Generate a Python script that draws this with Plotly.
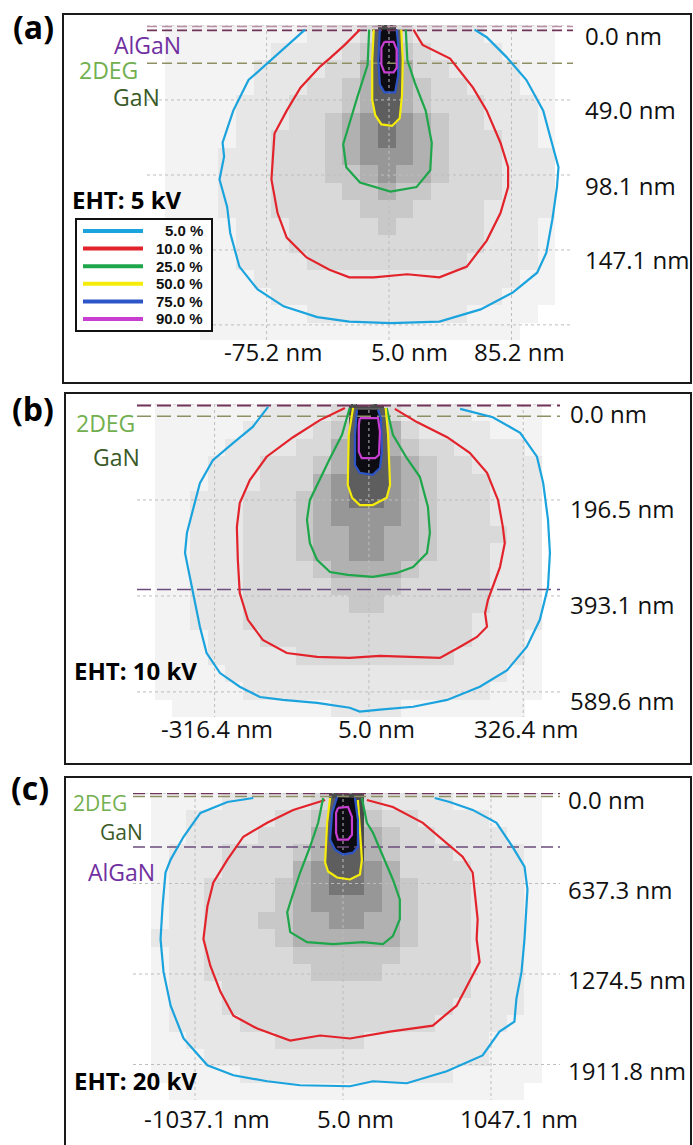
import plotly.graph_objects as go

W, H = 693, 1145

# ---------------------------------------------------------------- data
LEVEL_NAMES = ["5.0 %", "10.0 %", "25.0 %", "50.0 %", "75.0 %", "90.0 %"]
LEVEL_COLORS = ["#1BA3DD", "#E3232B", "#1EA64A", "#F5EC0C", "#2D55C8", "#C83ED2"]

# interface depths (nm) drawn as dashed lines
LAYER_DEPTHS = [1.0, 3.5, 25.0, 380.0]
LAYER_COLORS = ["#B98FA6", "#6F3459", "#8F8F66", "#6C4C7C"]

# grey levels of the deposited-energy map (0 = none ... 9 = max)
GRAY_LEVELS = ["#FFFFFF", "#F3F3F3", "#E7E7E7", "#D9D9D9", "#C8C8C8",
               "#B1B1B1", "#979797", "#767676", "#4A4A4A", "#111111"]

# ---------------- panel (a) : EHT 5 kV
A_X_EXTENT = [-153.5, 125.5]
A_Y_EXTENT = [0.0, 206.0]
A_X_TICKS = [-75.2, 5.0, 85.2]
A_X_LABELS = ["-75.2 nm", "5.0 nm", "85.2 nm"]
A_Y_TICKS = [0.0, 49.0, 98.1, 147.1, 196.1]
A_Y_LABELS = ["0.0 nm", "49.0 nm", "98.1 nm", "147.1 nm", ""]
A_HEAT = [
    [0,1,1,1,1,1,1,1,1,2,2,2,3,8,3,2,2,2,2,1,1,1,1,0],
    [0,1,1,1,1,1,1,2,2,2,2,3,4,8,4,3,2,2,2,2,1,1,1,0],
    [0,1,1,1,1,1,2,2,2,2,3,3,5,8,5,3,3,2,2,2,2,1,1,0],
    [0,1,1,1,1,1,2,2,2,3,3,4,5,8,5,4,3,3,2,2,2,1,1,0],
    [0,1,1,1,1,2,2,2,3,3,3,4,5,8,5,4,3,3,3,2,2,2,1,0],
    [0,1,1,1,1,2,2,2,3,3,4,5,6,7,6,5,4,3,3,2,2,2,1,0],
    [0,1,1,1,1,2,2,3,3,3,4,5,6,7,6,5,4,3,3,3,2,2,1,0],
    [0,1,1,1,2,2,2,3,3,3,4,5,6,6,6,5,4,3,3,3,2,2,2,0],
    [0,1,1,1,2,2,2,3,3,3,4,4,5,6,5,5,4,3,3,3,2,2,2,0],
    [0,1,1,1,2,2,2,3,3,3,3,4,4,5,4,4,3,3,3,3,2,2,2,0],
    [0,1,1,1,2,2,2,3,3,3,3,3,4,4,4,3,3,3,3,2,2,2,2,0],
    [0,1,1,1,1,2,2,2,3,3,3,3,3,4,3,3,3,3,3,2,2,2,1,0],
    [0,1,1,1,1,2,2,2,3,3,3,3,3,3,3,3,3,3,3,2,2,2,1,0],
    [0,1,1,1,1,2,2,2,2,3,3,3,3,3,3,3,3,3,2,2,2,2,1,0],
    [0,1,1,1,1,1,2,2,2,2,2,2,2,2,2,2,2,2,2,2,2,1,1,0],
    [0,1,1,1,1,1,1,2,2,2,2,2,2,2,2,2,2,2,2,2,1,1,1,0],
    [0,0,1,1,1,1,1,1,1,2,2,2,2,2,2,2,2,2,1,1,1,1,0,0],
    [0,0,0,1,1,1,1,1,1,1,1,1,1,1,1,1,1,1,1,1,1,0,0,0],
]
A05_X = [-50, -75, -87, -97, -104, -103, -106, -101, -99, -93, -81, -64, -42, -21, 6,
         38, 65, 86, 102, 108, 112, 115, 116, 110, 106, 95, 82, 69, 61]
A05_Y = [3, 25, 36, 56, 77, 86, 101, 119, 136, 158, 173, 184, 191, 194, 195,
         194, 186, 175, 162, 149, 127, 106, 93, 71, 56, 36, 21, 8, 3]
A10_X = [-14, -24, -34, -40, -53, -62, -70, -71, -72, -68, -62, -49, -34, -21,
         -5, 17, 38, 56, 69, 78, 83, 83, 78, 69, 60, 45, 27, 21]
A10_Y = [3, 13, 22, 27, 41, 56, 71, 86, 101, 123, 139, 152, 160, 165,
         165, 163, 165, 158, 141, 123, 106, 93, 77, 56, 41, 22, 13, 3]
A25_X = [-8, -9, -16, -21, -25, -23, -14, 6, 23, 32, 33, 29, 22, 17, 16]
A25_Y = [3, 26, 48, 65, 78, 93, 103, 109, 106, 95, 77, 56, 38, 23, 3]
A50_X = [-5, -6, -6, -4, 0, 7, 12, 13.5, 14, 13]
A50_Y = [3, 23, 49, 59, 65, 66, 61, 46, 23, 3]
A75_X = [-1, -2, -1, 2, 9, 11, 11, 10]
A75_Y = [3, 23, 39, 44, 44, 33, 13, 3]
A90_X = [2, 8, 10, 10, 8, 2, 0, 0, 2]
A90_Y = [11, 11, 16, 28, 31, 31, 26, 15, 11]

# ---------------- panel (b) : EHT 10 kV
B_X_EXTENT = [-478.0, 403.0]
B_Y_EXTENT = [0.0, 641.0]
B_X_TICKS = [-316.4, 5.0, 326.4]
B_X_LABELS = ["-316.4 nm", "5.0 nm", "326.4 nm"]
B_Y_TICKS = [0.0, 196.5, 393.1, 589.6]
B_Y_LABELS = ["0.0 nm", "196.5 nm", "393.1 nm", "589.6 nm"]
B_HEAT = [
    [0,1,1,1,1,1,1,2,2,2,2,3,8,8,3,2,2,2,2,1,1,1,1,0],
    [0,1,1,1,1,1,2,2,2,2,3,4,8,8,5,3,2,2,2,2,1,1,1,0],
    [0,1,1,1,1,2,2,2,2,3,3,5,8,8,5,4,3,3,2,2,2,2,1,0],
    [0,1,1,1,2,2,2,3,3,3,4,5,8,8,6,5,4,3,3,2,2,2,2,0],
    [0,1,1,1,2,2,2,3,3,3,5,6,8,8,6,5,4,3,3,3,2,2,2,0],
    [0,1,1,2,2,2,3,3,3,4,5,6,7,7,6,5,4,3,3,3,2,2,2,0],
    [0,1,1,2,2,2,3,3,3,4,5,6,6,6,6,5,4,3,3,3,2,2,2,0],
    [0,1,1,2,2,2,3,3,3,4,5,5,6,6,5,5,4,3,3,3,3,2,2,0],
    [0,1,1,2,2,2,3,3,3,4,5,5,6,6,5,5,4,3,3,3,2,2,2,0],
    [0,1,1,2,2,2,3,3,3,3,4,5,5,5,5,4,3,3,3,3,2,2,2,0],
    [0,1,1,2,2,2,3,3,3,3,3,4,4,4,4,3,3,3,3,3,2,2,2,0],
    [0,1,1,2,2,2,3,3,3,3,3,3,4,4,3,3,3,3,3,3,2,2,2,0],
    [0,1,1,2,2,2,3,3,3,3,3,3,3,3,3,3,3,3,3,2,2,2,2,0],
    [0,1,1,1,2,2,2,3,3,3,3,3,3,3,3,3,3,3,3,2,2,2,1,0],
    [0,1,1,1,2,2,2,2,2,3,3,3,3,3,3,3,3,3,2,2,2,2,1,0],
    [0,1,1,1,1,2,2,2,2,2,2,2,2,2,2,2,2,2,2,2,2,1,1,0],
    [0,1,1,1,1,1,2,2,2,2,2,2,2,2,2,2,2,2,2,2,1,1,1,0],
    [0,0,1,1,1,1,1,1,1,1,1,2,2,2,2,1,1,1,1,1,1,1,0,0],
]
B05_X = [-205, -237, -278, -320, -347, -358, -374, -378, -368, -358, -347, -333, -305,
         -264, -222, -174, -103, -35, -14, 28, 97, 168, 236, 293, 334, 361, 378, 382,
         378, 368, 355, 320, 263, 195]
B05_Y = [6, 47, 80, 115, 162, 203, 264, 305, 354, 401, 456, 510, 551,
         579, 600, 606, 612, 622, 630, 626, 620, 606, 579, 545, 497, 442, 375, 305,
         237, 162, 108, 59, 27, 10]
B10_X = [-45, -97, -153, -208, -243, -264, -270, -268, -264, -247, -216, -166, -103,
         -35, 28, 84, 153, 195, 230, 251, 247, 253, 263, 278, 288, 284, 274, 251,
         215, 168, 105, 59]
B10_Y = [8, 33, 68, 108, 156, 203, 252, 319, 387, 442, 483, 510, 518,
         520, 516, 518, 520, 497, 477, 456, 428, 401, 375, 334, 285, 252, 197, 141,
         100, 68, 37, 10]
B25_X = [-35, -51, -76, -103, -118, -124, -118, -103, -76, -39, 13, 63, 97, 126,
         132, 128, 111, 84, 55, 42]
B25_Y = [8, 63, 111, 166, 197, 237, 285, 319, 344, 350, 354, 346, 334, 305,
         264, 211, 149, 111, 63, 8]
B50_X = [-28, -37, -39, -30, -14, 13, 42, 49, 45, 40]
B50_Y = [8, 63, 166, 192, 207, 207, 192, 166, 63, 8]
B75_X = [-20, -24, -24, -14, 13, 28, 32, 30, 24]
B75_Y = [12, 63, 125, 141, 145, 131, 98, 29, 12]
B90_X = [-14, 24, 28, 26, 18, -10, -16, -16, -14]
B90_Y = [29, 29, 57, 104, 111, 111, 98, 43, 29]

# ---------------- panel (c) : EHT 20 kV
C_X_EXTENT = [-1474.0, 1533.0]
C_Y_EXTENT = [0.0, 2162.0]
C_X_TICKS = [-1037.1, 5.0, 1047.1]
C_X_LABELS = ["-1037.1 nm", "5.0 nm", "1047.1 nm"]
C_Y_TICKS = [0.0, 637.3, 1274.5, 1911.8]
C_Y_LABELS = ["0.0 nm", "637.3 nm", "1274.5 nm", "1911.8 nm"]
C_HEAT = [
    [0,1,1,1,1,2,2,2,2,2,3,8,8,3,2,2,2,2,1,1,1,1,1,0],
    [0,1,1,2,2,2,2,2,3,3,4,8,8,4,3,3,2,2,2,2,1,1,1,0],
    [0,1,1,2,2,2,2,3,3,3,5,8,8,5,4,3,3,2,2,2,2,1,1,0],
    [0,1,2,2,2,3,3,3,3,4,5,8,8,5,4,3,3,3,2,2,2,2,1,0],
    [0,1,2,2,2,3,3,3,3,5,6,7,7,6,5,3,3,3,3,2,2,2,1,0],
    [0,1,2,2,3,3,3,3,4,5,6,7,7,6,5,4,3,3,3,2,2,2,1,0],
    [0,1,2,2,3,3,3,3,4,5,6,6,6,6,5,4,3,3,3,2,2,2,1,0],
    [0,1,2,2,3,3,3,4,4,5,5,6,6,5,5,4,3,3,3,2,2,2,1,0],
    [0,2,2,2,3,3,3,3,4,5,5,5,5,5,5,4,3,3,3,2,2,2,1,0],
    [0,1,2,2,3,3,3,3,3,4,4,4,4,4,4,3,3,3,3,2,2,2,1,0],
    [0,1,2,2,3,3,3,3,3,3,4,4,4,4,3,3,3,3,3,2,2,2,1,0],
    [0,1,2,2,2,3,3,3,3,3,3,3,3,3,3,3,3,3,3,2,2,2,1,0],
    [0,1,2,2,2,3,3,3,3,3,3,3,3,3,3,3,3,3,2,2,2,2,1,0],
    [0,1,2,2,2,2,3,3,3,3,3,3,3,3,3,3,3,2,2,2,2,1,1,0],
    [0,1,1,2,2,2,2,2,3,3,3,3,3,2,2,2,2,2,2,2,1,1,1,0],
    [0,1,1,1,2,2,2,2,2,2,2,2,2,2,2,2,2,2,2,2,1,1,1,0],
    [0,1,1,1,1,1,2,2,2,2,2,2,2,2,2,2,2,2,1,1,1,1,1,0],
    [0,0,1,1,1,1,1,1,1,1,1,1,1,1,1,1,1,1,1,1,1,1,0,0],
]
C05_X = [-627, -809, -999, -1118, -1209, -1245, -1266, -1280, -1259, -1209, -1118, -950,
         -767, -529, -297, -65, 54, 216, 454, 735, 988, 1107, 1212, 1226, 1262, 1283,
         1297, 1304, 1283, 1198, 1086, 918, 756, 651]
C05_Y = [35, 63, 140, 308, 469, 560, 798, 1029, 1260, 1498, 1729, 1918,
         1988, 2030, 2058, 2065, 2065, 2030, 2044, 1960, 1848, 1680, 1610, 1449, 1260, 1029,
         798, 679, 518, 378, 210, 119, 63, 35]
C10_X = [-121, -346, -529, -697, -809, -908, -950, -978, -929, -858, -767, -599, -367,
         -156, 54, 335, 637, 805, 967, 946, 953, 932, 918, 847, 707, 567, 356, 173]
C10_Y = [49, 119, 210, 308, 469, 630, 798, 1029, 1218, 1400, 1568, 1659, 1743,
         1708, 1729, 1680, 1638, 1498, 1190, 1029, 889, 679, 560, 448, 329, 210, 98, 49]
C25_X = [-135, -170, -227, -297, -353, -388, -367, -248, -65, 145, 286, 356, 405, 405,
         356, 286, 216, 173, 138]
C25_Y = [35, 210, 378, 560, 728, 840, 980, 1050, 1064, 1050, 1064, 1008, 889, 749,
         609, 448, 280, 210, 35]
C50_X = [-86, -107, -121, -100, -37, 54, 124, 138, 124, 110]
C50_Y = [35, 210, 490, 553, 595, 609, 574, 469, 259, 49]
C75_X = [-37, -72, -86, -51, 5, 75, 110, 110, 89]
C75_Y = [28, 140, 329, 399, 434, 420, 378, 189, 35]
C90_X = [-30, 40, 68, 68, 40, -30, -44, -44, -30]
C90_Y = [105, 98, 168, 294, 329, 329, 280, 140, 105]

# ---------------------------------------------------------------- layout (pixels)
FONT = "Open Sans"
PURPLE, LGREEN, DGREEN = "#7030A0", "#72B04F", "#3A5A28"
TICK_SIZE = 24

panels = [
    dict(xa="x", ya="y", dom=(147, 573, 25, 340), xr=A_X_EXTENT, yr=A_Y_EXTENT, heat=A_HEAT,
         cont=[(A05_X, A05_Y), (A10_X, A10_Y), (A25_X, A25_Y), (A50_X, A50_Y), (A75_X, A75_Y), (A90_X, A90_Y)],
         xt=A_X_TICKS, xl=A_X_LABELS, yt=A_Y_TICKS, yl=A_Y_LABELS,
         ylab_px=583, ylab_shift=10, xlab_py=352, xlab_shift=[6, 20, 8], dash="10px,5px",
         box=(63, 14, 691, 383), tag="(a)", tag_pos=(33, 26),
         eht="EHT: 5 kV", eht_pos=(70, 200),
         mats=[("AlGaN", 147, 45, PURPLE, 23), ("2DEG", 108, 70, LGREEN, 23), ("GaN", 136, 97, DGREEN, 23)]),
    dict(xa="x2", ya="y2", dom=(137, 560, 404, 717), xr=B_X_EXTENT, yr=B_Y_EXTENT, heat=B_HEAT,
         cont=[(B05_X, B05_Y), (B10_X, B10_Y), (B25_X, B25_Y), (B50_X, B50_Y), (B75_X, B75_Y), (B90_X, B90_Y)],
         xt=B_X_TICKS, xl=B_X_LABELS, yt=B_Y_TICKS, yl=B_Y_LABELS,
         ylab_px=568, ylab_shift=9, xlab_py=728, xlab_shift=[2, 8, 3], dash="14px,6px",
         box=(65, 393, 691, 764), tag="(b)", tag_pos=(33, 408),
         eht="EHT: 10 kV", eht_pos=(72, 670),
         mats=[("2DEG", 105, 423, LGREEN, 23), ("GaN", 116, 457, DGREEN, 23)]),
    dict(xa="x3", ya="y3", dom=(133, 560, 793, 1100), xr=C_X_EXTENT, yr=C_Y_EXTENT, heat=C_HEAT,
         cont=[(C05_X, C05_Y), (C10_X, C10_Y), (C25_X, C25_Y), (C50_X, C50_Y), (C75_X, C75_Y), (C90_X, C90_Y)],
         xt=C_X_TICKS, xl=C_X_LABELS, yt=C_Y_TICKS, yl=C_Y_LABELS,
         ylab_px=566, ylab_shift=6, xlab_py=1118, xlab_shift=[12, 12, 28], dash="12px,5px",
         box=(65, 777, 691, 1160), tag="(c)", tag_pos=(30, 787),
         eht="EHT: 20 kV", eht_pos=(72, 1080),
         mats=[("2DEG", 100, 803, LGREEN, 21), ("GaN", 122, 832, DGREEN, 21), ("AlGaN", 122, 872, PURPLE, 23)]),
]


def fx(px):
    return px / W


def fy(py):
    return 1 - py / H


fig = go.Figure()
shapes, annotations = [], []
colorscale = [[i / 9, c] for i, c in enumerate(GRAY_LEVELS)]

for p in panels:
    xa, ya = p["xa"], p["ya"]
    x0, x1 = p["xr"]
    y0, y1 = p["yr"]
    nrow, ncol = len(p["heat"]), len(p["heat"][0])
    dx, dy = (x1 - x0) / ncol, (y1 - y0) / nrow
    fig.add_trace(go.Heatmap(z=p["heat"], x0=x0 + dx / 2, dx=dx, y0=y0 + dy / 2, dy=dy,
                             colorscale=colorscale, zmin=0, zmax=9, showscale=False,
                             hoverinfo="skip", xaxis=xa, yaxis=ya))
    # dark core (inside 50 % and 75 % contours)
    for (cx, cy), fc in zip(p["cont"][3:5], ["#5E5E5E", "#0C0C12"]):
        fig.add_trace(go.Scatter(x=cx, y=cy, mode="lines", fill="toself", fillcolor=fc,
                                 line=dict(width=0, color=fc), hoverinfo="skip",
                                 showlegend=False, xaxis=xa, yaxis=ya))
    # dotted grid
    gx, gy = [], []
    for v in p["xt"]:
        gx += [v, v, None]
        gy += [y0, y1, None]
    for v in p["yt"]:
        gx += [x0, x1, None]
        gy += [v, v, None]
    fig.add_trace(go.Scatter(x=gx, y=gy, mode="lines", line=dict(color="#BDBDBD", width=1, dash="dot"),
                             hoverinfo="skip", showlegend=False, xaxis=xa, yaxis=ya))
    # interface lines
    for d, c in zip(LAYER_DEPTHS, LAYER_COLORS):
        if d <= y1:
            fig.add_trace(go.Scatter(x=[x0, x1], y=[d, d], mode="lines",
                                     line=dict(color=c, width=1.6, dash=p["dash"]),
                                     hoverinfo="skip", showlegend=False, xaxis=xa, yaxis=ya))
    # contour lines
    for (cx, cy), col, name in zip(p["cont"], LEVEL_COLORS, LEVEL_NAMES):
        fig.add_trace(go.Scatter(x=cx, y=cy, mode="lines", name=name,
                                 line=dict(color=col, width=2.2), hoverinfo="skip",
                                 showlegend=False, xaxis=xa, yaxis=ya))

    l, r, t, b = p["dom"]
    n = "" if xa == "x" else xa[1:]
    fig.layout["xaxis" + n] = dict(domain=[fx(l), fx(r)], range=[x0, x1], anchor=ya, visible=False, fixedrange=True)
    fig.layout["yaxis" + n] = dict(domain=[fy(b), fy(t)], range=[y1, y0], anchor=xa, visible=False, fixedrange=True)

    # frame
    bx0, by0, bx1, by1 = p["box"]
    shapes.append(dict(type="rect", xref="paper", yref="paper", x0=fx(bx0), x1=fx(bx1),
                       y0=fy(by1), y1=fy(by0), line=dict(color="#1A1A1A", width=2), layer="above"))
    # right-hand depth labels
    for v, s in zip(p["yt"], p["yl"]):
        if s:
            annotations.append(dict(text=s, xref="paper", x=fx(p["ylab_px"]), xanchor="left",
                                    yref=ya, y=v, yanchor="middle", yshift=-p["ylab_shift"],
                                    showarrow=False, font=dict(family=FONT, size=TICK_SIZE, color="#111111")))
    # bottom lateral labels
    for v, s, sh in zip(p["xt"], p["xl"], p["xlab_shift"]):
        annotations.append(dict(text=s, xref=xa, x=v, xanchor="center", xshift=sh,
                                yref="paper", y=fy(p["xlab_py"]), yanchor="middle",
                                showarrow=False, font=dict(family=FONT, size=TICK_SIZE, color="#111111")))
    # panel tag
    annotations.append(dict(text="<b>%s</b>" % p["tag"], xref="paper", yref="paper",
                            x=fx(p["tag_pos"][0]), y=fy(p["tag_pos"][1]), xanchor="center", yanchor="middle",
                            showarrow=False, font=dict(family=FONT, size=32, color="#000000")))
    # EHT
    annotations.append(dict(text="<b>%s</b>" % p["eht"], xref="paper", yref="paper",
                            x=fx(p["eht_pos"][0]), y=fy(p["eht_pos"][1]), xanchor="left", yanchor="middle",
                            showarrow=False, font=dict(family=FONT, size=24, color="#000000")))
    # material labels
    for s, px, py, c, fs in p["mats"]:
        annotations.append(dict(text=s, xref="paper", yref="paper", x=fx(px), y=fy(py),
                                xanchor="center", yanchor="middle", showarrow=False,
                                font=dict(family=FONT, size=fs, color=c)))

# legend of panel (a)
shapes.append(dict(type="rect", xref="paper", yref="paper", x0=fx(76), x1=fx(212), y0=fy(331), y1=fy(219),
                   line=dict(color="#111111", width=2), fillcolor="#FFFFFF", layer="above"))
for i, (name, col) in enumerate(zip(LEVEL_NAMES, LEVEL_COLORS)):
    yy = 231 + i * 17.6
    shapes.append(dict(type="line", xref="paper", yref="paper", x0=fx(83), x1=fx(143), y0=fy(yy), y1=fy(yy),
                       line=dict(color=col, width=4), layer="above"))
    annotations.append(dict(text="<b>%s</b>" % name, xref="paper", yref="paper", x=fx(205), y=fy(yy),
                            xanchor="right", yanchor="middle", showarrow=False,
                            font=dict(family="Liberation Sans", size=15, color="#111111")))

fig.update_layout(width=W, height=H, margin=dict(l=0, r=0, t=0, b=0),
                  paper_bgcolor="#FFFFFF", plot_bgcolor="#FFFFFF",
                  shapes=shapes, annotations=annotations, showlegend=False,
                  hovermode=False)
fig.write_html("out.html", config={"displayModeBar": False, "staticPlot": True},
               post_script="document.body.style.margin='0';document.body.style.padding='0';"
                           "document.body.style.overflow='hidden';")
